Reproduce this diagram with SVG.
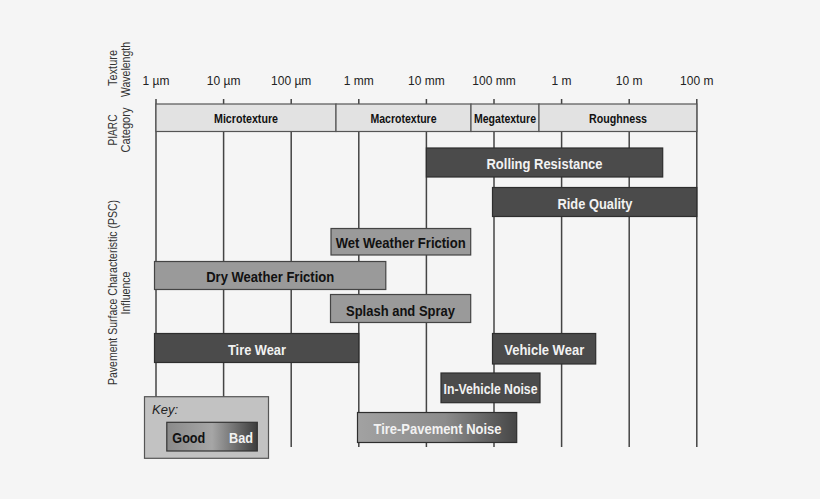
<svg xmlns="http://www.w3.org/2000/svg" width="820" height="499" viewBox="0 0 820 499">
<defs>
<linearGradient id="gTPN" x1="0" y1="0" x2="1" y2="0">
<stop offset="0" stop-color="#a2a2a2"/>
<stop offset="0.55" stop-color="#8c8c8c"/>
<stop offset="1" stop-color="#464646"/>
</linearGradient>
<linearGradient id="gKey" x1="0" y1="0" x2="1" y2="0">
<stop offset="0" stop-color="#8a8a8a"/>
<stop offset="0.5" stop-color="#a6a6a6"/>
<stop offset="1" stop-color="#3c3c3c"/>
</linearGradient>
<style>
text{font-family:"Liberation Sans",Arial,sans-serif;}
.grid line{stroke:#444;stroke-width:1.5;}
.tick{font-size:12px;fill:#222;text-anchor:middle;}
.side{font-size:12px;fill:#333;text-anchor:middle;}
.cat rect{fill:#e2e2e2;stroke:#555;stroke-width:1.2;}
.cat text{font-size:12px;font-weight:bold;fill:#111;text-anchor:middle;}
.dark rect{fill:#4b4b4b;stroke:#2e2e2e;stroke-width:1.2;}
.dark text{font-size:15px;font-weight:bold;fill:#f2f2f2;text-anchor:middle;}
.mid rect{fill:#9a9a9a;stroke:#444;stroke-width:1.2;}
.mid text{font-size:15px;font-weight:bold;fill:#111;text-anchor:middle;}
</style>
</defs>
<rect x="0" y="0" width="820" height="499" fill="#f5f5f5"/>

<g id="axis-labels">
<text class="side" transform="translate(117,68) rotate(-90)" textLength="36" lengthAdjust="spacingAndGlyphs">Texture</text>
<text class="side" transform="translate(129.5,69.5) rotate(-90)" textLength="55" lengthAdjust="spacingAndGlyphs">Wavelength</text>
<text class="side" transform="translate(116.5,130) rotate(-90)" textLength="31" lengthAdjust="spacingAndGlyphs">PIARC</text>
<text class="side" transform="translate(130,130) rotate(-90)" textLength="45" lengthAdjust="spacingAndGlyphs">Category</text>
<text class="side" transform="translate(116.5,292.5) rotate(-90)" textLength="185" lengthAdjust="spacingAndGlyphs">Pavement Surface Characteristic (PSC)</text>
<text class="side" transform="translate(130,293) rotate(-90)" textLength="43" lengthAdjust="spacingAndGlyphs">Influence</text>
</g>

<g id="scale">
<text class="tick" x="156" y="85">1 µm</text>
<text class="tick" x="223.6" y="85">10 µm</text>
<text class="tick" x="291.2" y="85">100 µm</text>
<text class="tick" x="358.8" y="85">1 mm</text>
<text class="tick" x="426.4" y="85">10 mm</text>
<text class="tick" x="494" y="85">100 mm</text>
<text class="tick" x="561.6" y="85">1 m</text>
<text class="tick" x="629.2" y="85">10 m</text>
<text class="tick" x="696.8" y="85">100 m</text>
</g>

<g id="grid" class="grid">
<line x1="156" y1="99" x2="156" y2="447"/>
<line x1="223.6" y1="99" x2="223.6" y2="447"/>
<line x1="291.2" y1="99" x2="291.2" y2="447"/>
<line x1="358.8" y1="99" x2="358.8" y2="447"/>
<line x1="426.4" y1="99" x2="426.4" y2="447"/>
<line x1="494" y1="99" x2="494" y2="447"/>
<line x1="561.6" y1="99" x2="561.6" y2="447"/>
<line x1="629.2" y1="99" x2="629.2" y2="447"/>
<line x1="696.8" y1="99" x2="696.8" y2="447"/>
</g>

<g id="piarc" class="cat">
<g id="cat-microtexture"><rect x="156" y="104" width="180" height="27.5"/><text x="246" y="122.5" textLength="64" lengthAdjust="spacingAndGlyphs">Microtexture</text></g>
<g id="cat-macrotexture"><rect x="336" y="104" width="135" height="27.5"/><text x="403.5" y="122.5" textLength="66" lengthAdjust="spacingAndGlyphs">Macrotexture</text></g>
<g id="cat-megatexture"><rect x="471" y="104" width="68" height="27.5"/><text x="505" y="122.5" textLength="62" lengthAdjust="spacingAndGlyphs">Megatexture</text></g>
<g id="cat-roughness"><rect x="539" y="104" width="157.8" height="27.5"/><text x="618" y="122.5" textLength="58" lengthAdjust="spacingAndGlyphs">Roughness</text></g>
</g>

<g id="rolling-resistance" class="dark"><rect x="426.4" y="148" width="236.3" height="29"/><text x="544.5" y="169" textLength="116" lengthAdjust="spacingAndGlyphs">Rolling Resistance</text></g>
<g id="ride-quality" class="dark"><rect x="492.5" y="187.5" width="204.3" height="29"/><text x="595" y="208.5" textLength="75" lengthAdjust="spacingAndGlyphs">Ride Quality</text></g>
<g id="wet-weather-friction" class="mid"><rect x="331" y="228.5" width="139.7" height="26.5"/><text x="400.7" y="248.3" textLength="130" lengthAdjust="spacingAndGlyphs">Wet Weather Friction</text></g>
<g id="dry-weather-friction" class="mid"><rect x="154.5" y="261.5" width="231.3" height="28"/><text x="270.2" y="282" textLength="128" lengthAdjust="spacingAndGlyphs">Dry Weather Friction</text></g>
<g id="splash-and-spray" class="mid"><rect x="330.5" y="294.5" width="140.2" height="28"/><text x="400.5" y="315.5" textLength="109" lengthAdjust="spacingAndGlyphs">Splash and Spray</text></g>
<g id="tire-wear" class="dark"><rect x="154.5" y="333.5" width="204.3" height="29"/><text x="257" y="355" textLength="58" lengthAdjust="spacingAndGlyphs">Tire Wear</text></g>
<g id="vehicle-wear" class="dark"><rect x="492.5" y="333.5" width="103.2" height="30.5"/><text x="544.2" y="355" textLength="80" lengthAdjust="spacingAndGlyphs">Vehicle Wear</text></g>
<g id="in-vehicle-noise" class="dark"><rect x="441" y="373" width="99" height="29.7"/><text x="490.5" y="394" textLength="94" lengthAdjust="spacingAndGlyphs">In-Vehicle Noise</text></g>
<g id="tire-pavement-noise" class="dark"><rect x="357.5" y="412.5" width="159.2" height="30" style="fill:url(#gTPN)"/><text x="437.5" y="434" textLength="128" lengthAdjust="spacingAndGlyphs">Tire-Pavement Noise</text></g>

<g id="key">
<rect x="144.5" y="396.7" width="124" height="61.6" fill="#c2c2c2" stroke="#555" stroke-width="1.2"/>
<text x="152" y="413.5" font-size="13" font-style="italic" fill="#222">Key:</text>
<rect x="166.8" y="422.3" width="90.5" height="28.7" fill="url(#gKey)" stroke="#333" stroke-width="1.2"/>
<text x="172.3" y="442.7" font-size="15" font-weight="bold" fill="#111" textLength="33" lengthAdjust="spacingAndGlyphs">Good</text>
<text x="229" y="442.7" font-size="15" font-weight="bold" fill="#f2f2f2" textLength="24" lengthAdjust="spacingAndGlyphs">Bad</text>
</g>
</svg>
